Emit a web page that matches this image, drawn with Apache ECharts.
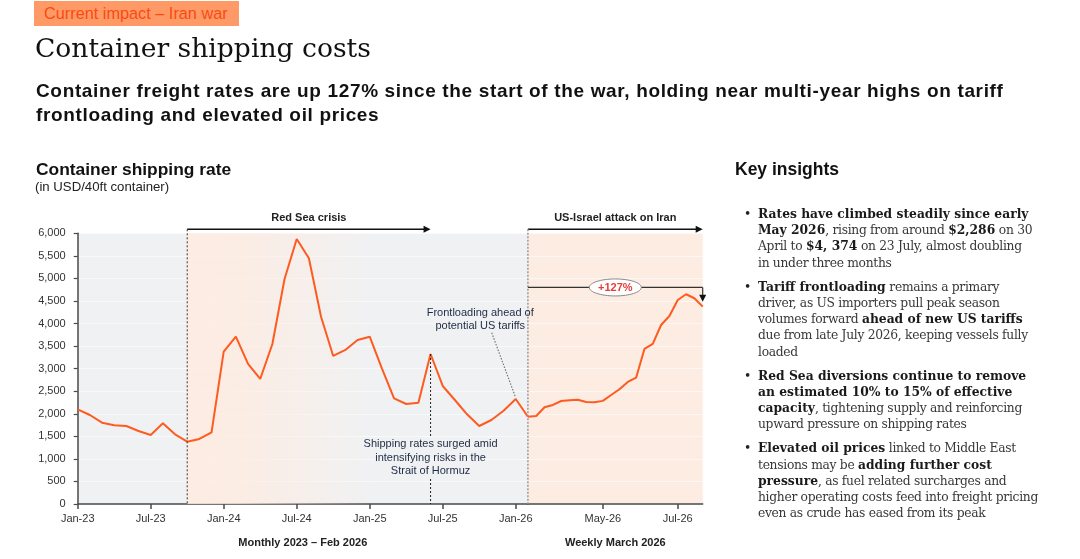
<!DOCTYPE html>
<html><head><meta charset="utf-8">
<script src="https://cdn.jsdelivr.net/npm/echarts@6.0.0/dist/echarts.min.js"></script>
<style>
html,body{margin:0;padding:0;background:#fff;width:1080px;height:559px;overflow:hidden;}
#chart{position:absolute;left:0;top:0;width:1080px;height:559px;}
.t{position:absolute;white-space:nowrap;font-family:'Liberation Sans',Arial,Helvetica,sans-serif;z-index:2;}
#tag{left:34px;top:1px;width:205px;height:25px;background:#ff9a66;color:#fa4a14;font-size:16.3px;line-height:25px;text-indent:10px;}
#title{left:35px;top:34.5px;font-family:'DejaVu Serif',Georgia,serif;font-size:26.6px;line-height:26.6px;color:#111;}
#sub{left:36px;top:78.7px;font-size:19px;line-height:24px;letter-spacing:0.65px;font-weight:bold;color:#111;}
#ctitle{left:36px;top:160.6px;font-size:17.4px;line-height:17.4px;font-weight:bold;color:#111;}
#cunit{left:35px;top:180.4px;font-size:13.2px;line-height:13.2px;color:#222;}
#ki{left:735px;top:160.9px;font-size:17.5px;line-height:17.5px;font-weight:bold;color:#111;}
#bul{left:744px;top:206px;font-family:'DejaVu Serif',Georgia,serif;font-size:12.3px;line-height:16.2px;color:#383838;letter-spacing:-0.3px;}
#bul .it{position:relative;padding-left:14px;margin-bottom:7.9px;}
#bul .it:before{content:'\2022';position:absolute;left:0;top:0;color:#222;}
#bul b{color:#1a1a1a;letter-spacing:0;}
</style></head><body>
<div id="chart"></div>
<div class="t" id="tag">Current impact – Iran war</div>
<div class="t" id="title">Container shipping costs</div>
<div class="t" id="sub">Container freight rates are up 127% since the start of the war, holding near multi-year highs on tariff<br>frontloading and elevated oil prices</div>
<div class="t" id="ctitle">Container shipping rate</div>
<div class="t" id="cunit">(in USD/40ft container)</div>
<div class="t" id="ki">Key insights</div>
<div class="t" id="bul">
<div class="it"><b>Rates have climbed steadily since early<br>May 2026</b>, rising from around <b>$2,286</b> on 30<br>April to <b>$4, 374</b> on 23 July, almost doubling<br>in under three months</div>
<div class="it"><b>Tariff frontloading</b> remains a primary<br>driver, as US importers pull peak season<br>volumes forward <b>ahead of new US tariffs</b><br>due from late July 2026, keeping vessels fully<br>loaded</div>
<div class="it"><b>Red Sea diversions continue to remove<br>an estimated 10% to 15% of effective<br>capacity</b>, tightening supply and reinforcing<br>upward pressure on shipping rates</div>
<div class="it"><b>Elevated oil prices</b> linked to Middle East<br>tensions may be <b>adding further cost<br>pressure</b>, as fuel related surcharges and<br>higher operating costs feed into freight pricing<br>even as crude has eased from its peak</div>
</div>
<script>
// ---- data ----
const monthlyLabels = ['Jan-23','Feb-23','Mar-23','Apr-23','May-23','Jun-23','Jul-23','Aug-23','Sep-23','Oct-23','Nov-23','Dec-23',
  'Jan-24','Feb-24','Mar-24','Apr-24','May-24','Jun-24','Jul-24','Aug-24','Sep-24','Oct-24','Nov-24','Dec-24',
  'Jan-25','Feb-25','Mar-25','Apr-25','May-25','Jun-25','Jul-25','Aug-25','Sep-25','Oct-25','Nov-25','Dec-25',
  'Jan-26','Feb-26'];
const monthlyValues = [2099,1973,1802,1745,1729,1618,1530,1789,1545,1381,1441,1589,
  3376,3709,3104,2771,3547,4988,5875,5447,4152,3281,3414,3636,
  3709,3008,2343,2217,2246,3325,2616,2305,1988,1729,1862,2068,
  2328,1935];
const weeklyLabels = ['5-Mar','12-Mar','19-Mar','26-Mar','2-Apr','9-Apr','16-Apr','23-Apr','30-Apr','7-May','14-May','21-May','28-May',
  '4-Jun','11-Jun','18-Jun','25-Jun','2-Jul','9-Jul','16-Jul','23-Jul'];
const weeklyValues = [1951,2144,2195,2283,2299,2312,2261,2254,2286,2416,2543,2705,2800,3436,3547,3968,4168,4522,4649,4560,4374];
const weeklyTickLabels = {'30-Apr':'May-26','2-Jul':'Jul-26'};
const yMin = 0, yMax = 6000, yInterval = 500;
const redSeaStart = 'Oct-23', redSeaEnd = 'Jun-25', redSeaFadeEnd = 'Jan-25';
const hormuzMonth = 'Jun-25', frontloadMonth = 'Jan-26', textMonth = 'Oct-25';
const bracketLevel = 4800;

// ---- chart ----
const FONT = "'Liberation Sans', Arial, Helvetica, sans-serif";
const chart = echarts.init(document.getElementById('chart'), null, {renderer:'canvas', width:1080, height:559});
const G1 = {left:77.7, top:233.3, width:450.2, height:270.7};
const G2 = {left:527.9, top:233.3, width:174.8, height:270.7};
const weekCats = [monthlyLabels[monthlyLabels.length-1]].concat(weeklyLabels);
const weekData = [monthlyValues[monthlyValues.length-1]].concat(weeklyValues);
const LINE = '#ff5a1f', AX = '#4a4a4a', GREY = '#f0f1f3', PEACH = '#fdece2';
const split = {show:true, lineStyle:{color:'rgba(255,255,255,0.55)', width:1}};
const isWeekTick = (i, v) => Object.prototype.hasOwnProperty.call(weeklyTickLabels, v);

chart.setOption({
  animation:false,
  textStyle:{fontFamily:FONT},
  grid:[
    Object.assign({show:true, backgroundColor:GREY, borderWidth:0, outerBoundsMode:'none'}, G1),
    Object.assign({show:true, backgroundColor:PEACH, borderWidth:0, outerBoundsMode:'none'}, G2)
  ],
  xAxis:[
    {gridIndex:0, type:'category', data:monthlyLabels, boundaryGap:false,
     axisLine:{lineStyle:{color:AX, width:1.5}},
     axisTick:{show:true, interval:5, length:5, lineStyle:{color:AX, width:1.5}},
     axisLabel:{interval:5, margin:9, fontSize:11, color:'#333', fontFamily:FONT},
     splitLine:{show:false}},
    {gridIndex:1, type:'category', data:weekCats, boundaryGap:false,
     axisLine:{lineStyle:{color:AX, width:1.5}},
     axisTick:{show:true, interval:isWeekTick, length:5, lineStyle:{color:AX, width:1.5}},
     axisLabel:{interval:isWeekTick, margin:9, fontSize:11, color:'#333', fontFamily:FONT,
       formatter:v => weeklyTickLabels[v] || ''},
     splitLine:{show:false}}
  ],
  yAxis:[
    {gridIndex:0, type:'value', min:yMin, max:yMax, interval:yInterval,
     axisLine:{show:true, lineStyle:{color:AX, width:1.5}},
     axisTick:{show:true, length:4, lineStyle:{color:AX, width:1.2}},
     axisLabel:{margin:12, fontSize:11, color:'#333', fontFamily:FONT, formatter:v => v.toLocaleString('en-US')},
     splitLine:split},
    {gridIndex:1, type:'value', min:yMin, max:yMax, interval:yInterval,
     axisLine:{show:false}, axisTick:{show:false}, axisLabel:{show:false}, splitLine:split}
  ],
  series:[
    {type:'line', xAxisIndex:0, yAxisIndex:0, data:monthlyValues, symbol:'none',
     lineStyle:{color:LINE, width:2}, z:5,
     markArea:{silent:true, z:1, itemStyle:{color:new echarts.graphic.LinearGradient(0,0,1,0,[
        {offset:0, color:'rgba(255,235,223,0.85)'},{offset:0.3, color:'rgba(255,235,223,0.75)'},{offset:1, color:'rgba(255,235,223,0)'}])},
       data:[[{xAxis:redSeaStart},{xAxis:redSeaFadeEnd}]]}},
    {type:'line', xAxisIndex:1, yAxisIndex:1, data:weekData, symbol:'none',
     lineStyle:{color:LINE, width:2}, z:5}
  ]
});

// ---- annotations from the library's scales ----
const p1 = (cat, v) => chart.convertToPixel({xAxisIndex:0, yAxisIndex:0}, [monthlyLabels.indexOf(cat), v]);
const p2 = (i, v) => chart.convertToPixel({xAxisIndex:1, yAxisIndex:1}, [i, v]);
const topY = p1(monthlyLabels[0], yMax)[1];
const botY = p1(monthlyLabels[0], yMin)[1];
const arrowY = topY - 4;
const g = [];
function hline(x1, x2, y, color, w){ g.push({type:'line', shape:{x1, y1:y, x2, y2:y}, style:{stroke:color, lineWidth:w}, z:10}); }
function arrowRight(x, y){ g.push({type:'polygon', shape:{points:[[x-7,y-3.5],[x,y],[x-7,y+3.5]]}, style:{fill:'#111'}, z:10}); }
function arrowDown(x, y){ g.push({type:'polygon', shape:{points:[[x-3.5,y-7],[x+3.5,y-7],[x,y]]}, style:{fill:'#111'}, z:10}); }
function vdash(x, y1, y2, color, w, dash){ g.push({type:'line', shape:{x1:x, y1, x2:x, y2}, style:{stroke:color, lineWidth:w, lineDash:dash}, z:10}); }
function label(x, y, text, style){ g.push({type:'text', x, y, style:Object.assign({text, align:'center', verticalAlign:'middle', fontFamily:FONT}, style), z:11}); }

// Red Sea crisis
const rsX1 = p1(redSeaStart, 0)[0], rsX2 = p1(redSeaEnd, 0)[0];
hline(rsX1, rsX2 - 3, arrowY, '#111', 1.5); arrowRight(rsX2, arrowY);
label((rsX1 + rsX2)/2, arrowY - 11, 'Red Sea crisis', {fontSize:11, fontWeight:'bold', fill:'#222'});
vdash(rsX1, arrowY, botY, '#333', 1, [2,2]);

// US-Israel attack on Iran
const usX1 = p2(0, 0)[0], usX2 = p2(weekCats.length-1, 0)[0];
hline(usX1, usX2 - 3, arrowY, '#111', 1.5); arrowRight(usX2, arrowY);
label((usX1 + usX2)/2, arrowY - 11, 'US-Israel attack on Iran', {fontSize:11, fontWeight:'bold', fill:'#222'});
vdash(usX1, arrowY, botY, '#9a9a9a', 1.5, [2,1.5]);

// Strait of Hormuz
const hz = p1(hormuzMonth, monthlyValues[monthlyLabels.indexOf(hormuzMonth)]);
vdash(hz[0], hz[1], 436, '#222', 1, [2,2]);
vdash(hz[0], 479, botY, '#222', 1, [2,2]);
label(hz[0], 457.5, 'Shipping rates surged amid\nintensifying risks in the\nStrait of Hormuz', {fontSize:11, lineHeight:13.4, fill:'#1f2a44'});

// Frontloading
const fl = p1(frontloadMonth, monthlyValues[monthlyLabels.indexOf(frontloadMonth)]);
const tx = p1(textMonth, 0)[0] + 1;
label(tx, 319.3, 'Frontloading ahead of\npotential US tariffs', {fontSize:11, lineHeight:13.4, fill:'#1f2a44'});
g.push({type:'line', shape:{x1:fl[0]-24, y1:332.7, x2:fl[0]-0.7, y2:fl[1]-3}, style:{stroke:'#777', lineWidth:1.2, lineDash:[1.5,1.5]}, z:10});

// +127% bracket
const bY = p2(0, bracketLevel)[1];
const lastPt = p2(weekCats.length-1, weekData[weekData.length-1]);
hline(usX1, usX2, bY, '#333', 1.2);
g.push({type:'line', shape:{x1:usX2, y1:bY, x2:usX2, y2:lastPt[1]-11}, style:{stroke:'#333', lineWidth:1.2}, z:10});
arrowDown(usX2, lastPt[1]-5);
g.push({type:'ellipse', shape:{cx:(usX1+usX2)/2, cy:bY, rx:26, ry:8.5}, style:{fill:'#fff', stroke:'#8a8a8a', lineWidth:1}, z:11});
label((usX1+usX2)/2, bY+0.5, '+127%', {fontSize:11, fontWeight:'bold', fill:'#e5403a'});

// period captions
label(G1.left + G1.width/2, 543, 'Monthly 2023 – Feb 2026', {fontSize:11, fontWeight:'bold', fill:'#222'});
label(G2.left + G2.width/2, 543, 'Weekly March 2026', {fontSize:11, fontWeight:'bold', fill:'#222'});

chart.setOption({graphic:{elements:g}});
</script>
</body></html>
